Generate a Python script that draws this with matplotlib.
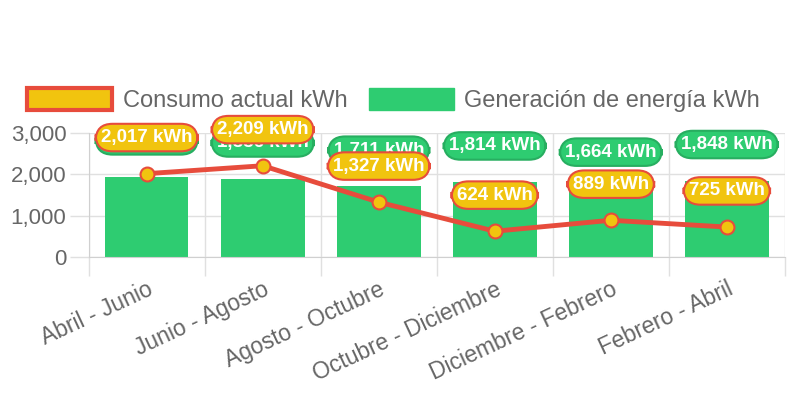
# plot.py
# consumo vs generacion de energia, bimestral

import matplotlib
matplotlib.use("Agg")
from matplotlib import pyplot as plt
from matplotlib.patches import Patch
from matplotlib.ticker import FuncFormatter

periodos = ["Abril - Junio", "Junio - Agosto", "Agosto - Octubre",
            "Octubre - Diciembre", "Diciembre - Febrero", "Febrero - Abril"]
consumo = [2017, 2209, 1327, 624, 889, 725]
generacion = [1937, 1886, 1711, 1814, 1664, 1848]

verde = "#2ecc71"
verde_borde = "#27ae60"
rojo = "#e74c3c"
amarillo = "#f1c40f"
gris = "#666666"

plt.rcParams["font.family"] = ["Liberation Sans", "DejaVu Sans"]

fig = plt.figure(figsize=(7.92, 3.96), dpi=100)
ax = fig.add_axes([0.112, 0.351, 0.879, 0.313])

x = list(range(len(periodos)))

# bars + line
ax.bar(x, generacion, width=0.72, color=verde, zorder=2)
ax.plot(x, consumo, color=rojo, linewidth=3.5, marker="o", markersize=10,
        markerfacecolor=amarillo, markeredgecolor=rojo, markeredgewidth=1.5,
        zorder=3)

# value labels (bar labels first, line labels on top)
def etiqueta(xi, val, fondo, borde, z):
    ax.annotate(f"{val:,} kWh", xy=(xi, val), xytext=(0, 26),
                textcoords="offset points", ha="center", va="center",
                color="white", fontsize=13.5, fontweight="bold",
                annotation_clip=False, zorder=z,
                bbox=dict(boxstyle="round,pad=0.28,rounding_size=0.9",
                          facecolor=fondo, edgecolor=borde, linewidth=1.5))

for xi, val in zip(x, generacion):
    etiqueta(xi, val, verde, verde_borde, 5)
for xi, val in zip(x, consumo):
    etiqueta(xi, val, amarillo, rojo, 6)

# axes
ax.set_xlim(-0.5, len(periodos) - 0.5)
ax.set_ylim(0, 3000)
ax.set_yticks([0, 1000, 2000, 3000])
ax.yaxis.set_major_formatter(FuncFormatter(lambda v, p: f"{int(v):,}"))
ax.set_xticks([i - 0.5 for i in x] + [len(periodos) - 0.5], minor=False)
ax.set_xticklabels([])
ax.set_xticks(x, minor=True)
ax.set_xticklabels(periodos, minor=True, rotation=25, ha="right",
                   rotation_mode="anchor", fontsize=16.5, color=gris)
ax.tick_params(axis="x", which="major", length=14, color="#e0e0e0", width=1)
ax.tick_params(axis="x", which="minor", length=0, pad=15)
ax.tick_params(axis="y", length=14, color="#e0e0e0", width=1,
               labelsize=16, labelcolor=gris, pad=2)
ax.grid(True, which="major", color="#e0e0e0", linewidth=1, zorder=0)
ax.set_axisbelow(True)
for lado in ["top", "right"]:
    ax.spines[lado].set_visible(False)
for lado in ["left", "bottom"]:
    ax.spines[lado].set_color("#d0d0d0")

# legend
handles = [Patch(facecolor=amarillo, edgecolor=rojo, linewidth=3,
                 label="Consumo actual kWh"),
           Patch(facecolor=verde, edgecolor=verde, label="Generación de energía kWh")]
fig.legend(handles=handles, loc="center", bbox_to_anchor=(0.497, 0.748), ncol=2,
           frameon=False, fontsize=17, labelcolor=gris, handlelength=3.6,
           handleheight=1.1, handletextpad=0.45, columnspacing=0.9)

plt.savefig("out.png", dpi=100)
